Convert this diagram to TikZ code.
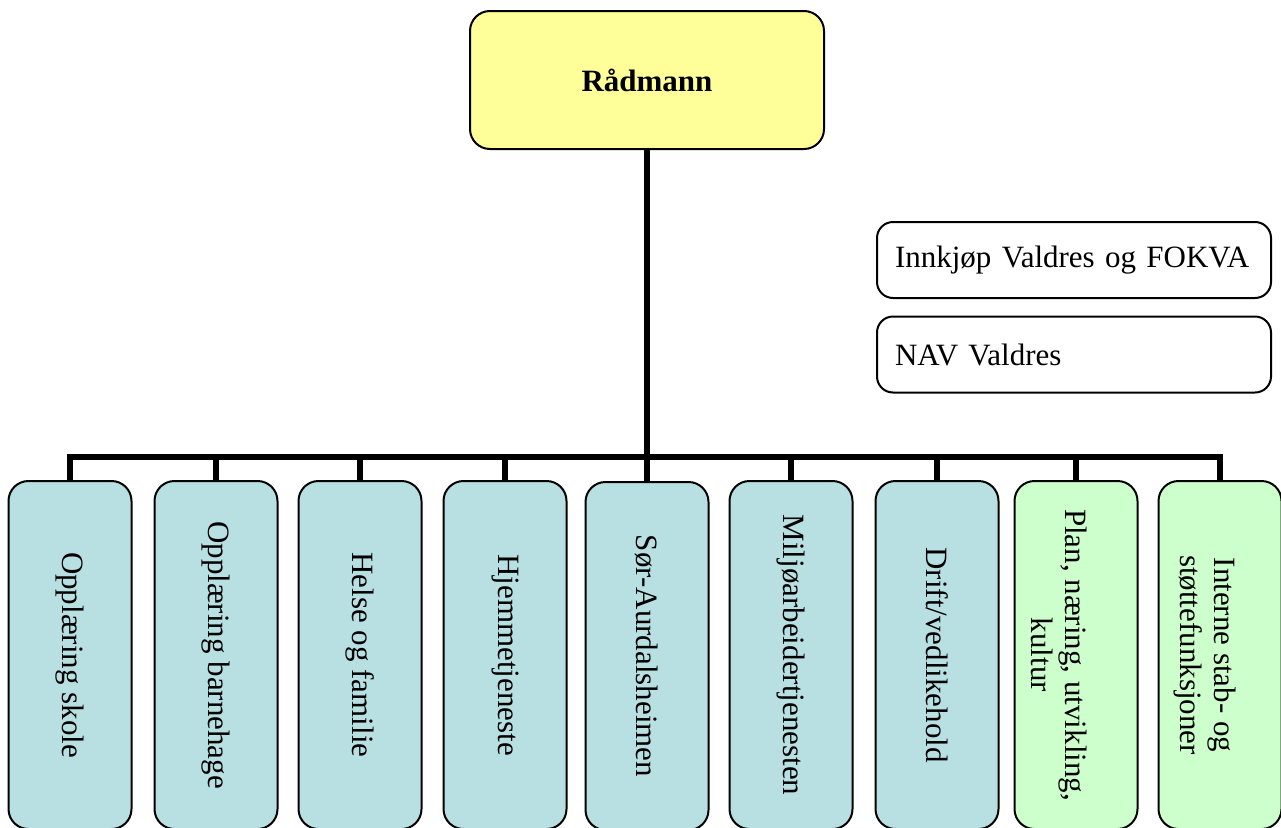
\documentclass[tikz,border=0pt]{standalone}
\usepackage{fontspec}
\setmainfont{Liberation Serif}
\definecolor{topyellow}{HTML}{FFFF99}
\definecolor{unitteal}{HTML}{B8DFE2}
\definecolor{unitgreen}{HTML}{CCFFCC}
\begin{document}
\begin{tikzpicture}[x=1pt,y=-1pt,
  every node/.style={font=\fontsize{31}{34}\selectfont},
  topbox/.style={draw=black, line width=2pt, rounded corners=20pt, fill=topyellow,
    minimum width=354pt, minimum height=138pt, inner sep=0pt, font=\fontsize{31}{34}\selectfont\bfseries},
  sidebox/.style={draw=black, line width=2pt, rounded corners=16pt, fill=white,
    minimum width=394pt, minimum height=76pt, inner xsep=18pt, inner ysep=0pt, text width=358pt, align=left},
  unitbox/.style={draw=black, line width=2pt, rounded corners=20pt,
    minimum width=123pt, minimum height=348pt, inner sep=0pt},
  teal/.style={unitbox, fill=unitteal},
  green/.style={unitbox, fill=unitgreen},
  vlabel/.style={rotate=-90, align=center, inner sep=0pt},
  conn/.style={draw=black, line width=5.5pt}
]
\useasboundingbox (0,0) rectangle (1281,827);
\clip (0,0) rectangle (1281,827);

\node[topbox] (top) at (647,80) {Rådmann};

\node[sidebox] (innkjop) at (1074,260) {Innkjøp Valdres og FOKVA};
\node[sidebox] (nav) at (1074,354.5) {NAV Valdres};

\node[teal] (b1) at (70,655) {};
\node[teal] (b2) at (216,655) {};
\node[teal] (b3) at (360,655) {};
\node[teal] (b4) at (505,655) {};
\node[teal] (b5) at (647,656) {};
\node[teal] (b6) at (791,655) {};
\node[teal] (b7) at (937,655) {};
\node[green] (b8) at (1076,655) {};
\node[green] (b9) at (1220,655) {};

\node[vlabel] (t1) at (b1.center) {Opplæring skole};
\node[vlabel] (t2) at (b2.center) {Opplæring barnehage};
\node[vlabel] (t3) at (b3.center) {Helse og familie};
\node[vlabel] (t4) at (b4.center) {Hjemmetjeneste};
\node[vlabel] (t5) at (b5.center) {Sør-Aurdalsheimen};
\node[vlabel] (t6) at (b6.center) {Miljøarbeidertjenesten};
\node[vlabel] (t7) at (b7.center) {Drift/vedlikehold};
\node[vlabel] (t8) at ([xshift=-17pt]b8.center) {Plan, næring, utvikling,\\kultur};
\node[vlabel] (t9) at ([xshift=-15pt]b9.center) {Interne stab- og\\støttefunksjoner};

\coordinate (barY) at (0,457);
\draw[conn] (top.south) -- (top.south |- barY);
\draw[conn] (b1.north) -- (b1.north |- barY) -- (b9.north |- barY) -- (b9.north);
\foreach \i in {2,...,8} {
  \draw[conn] (b\i.north) -- (b\i.north |- barY);
}
\end{tikzpicture}
\end{document}
